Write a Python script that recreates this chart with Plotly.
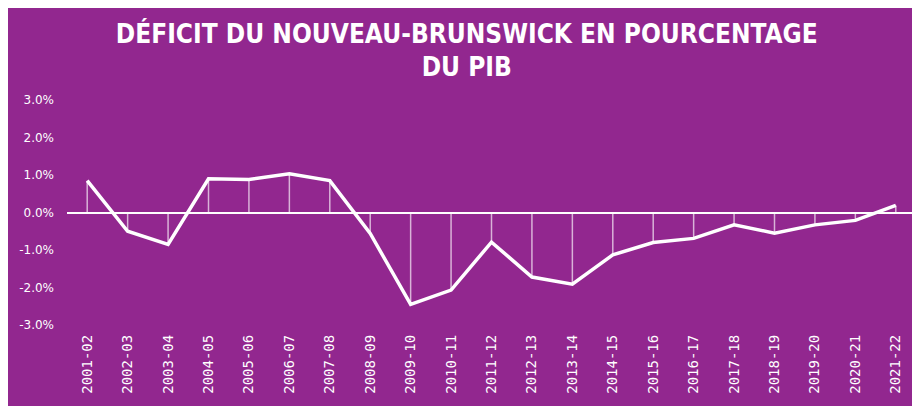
import plotly.graph_objects as go

years = ["2001-02", "2002-03", "2003-04", "2004-05", "2005-06", "2006-07", "2007-08",
         "2008-09", "2009-10", "2010-11", "2011-12", "2012-13", "2013-14", "2014-15",
         "2015-16", "2016-17", "2017-18", "2018-19", "2019-20", "2020-21", "2021-22"]
deficit = [0.85, -0.5, -0.85, 0.9, 0.88, 1.03, 0.85,
           -0.56, -2.45, -2.07, -0.79, -1.72, -1.91, -1.13,
           -0.8, -0.69, -0.33, -0.55, -0.33, -0.21, 0.19]
tick_vals = [-3, -2, -1, 0, 1, 2, 3]
tick_text = ["-3.0%", "-2.0%", "-1.0%", "0.0%", "1.0%", "2.0%", "3.0%"]

PURPLE = "#92278f"

# drop lines from each point to zero
dx, dy = [], []
for yr, v in zip(years, deficit):
    dx += [yr, yr, None]
    dy += [0, v, None]

fig = go.Figure()
fig.add_trace(go.Scatter(x=dx, y=dy, mode="lines",
                         line=dict(color="rgba(255,255,255,0.65)", width=1.5),
                         hoverinfo="skip", showlegend=False))
fig.add_trace(go.Scatter(x=years, y=deficit, mode="lines",
                         line=dict(color="white", width=3.5),
                         showlegend=False))

# page body adds ~8px white at top/left, so the figure is 8px smaller
fig.update_layout(
    width=912, height=398,
    margin=dict(l=59, r=4, t=92, b=81),
    paper_bgcolor=PURPLE, plot_bgcolor=PURPLE,
    title=dict(text="<b>DÉFICIT DU NOUVEAU-BRUNSWICK EN POURCENTAGE<br>DU PIB</b>",
               x=0.503, xanchor="center", y=0.913, yanchor="middle",
               font=dict(family="DejaVu Sans Condensed, Liberation Sans Narrow, sans-serif",
                         size=26, color="white")),
    xaxis=dict(type="category", range=[-0.5, len(years) - 0.5],
               showgrid=False, showline=False, ticks="", automargin=False,
               ticklabelstandoff=6, tickangle=-90,
               tickfont=dict(family="DejaVu Sans Mono", size=14, color="white")),
    yaxis=dict(range=[-3, 3], tickvals=tick_vals, ticktext=tick_text,
               showgrid=False, zeroline=True, zerolinecolor="white", zerolinewidth=1.5,
               ticks="", ticklabelstandoff=12, automargin=False,
               tickfont=dict(family="DejaVu Sans", size=12, color="white")),
)

fig.write_html("out.html")
